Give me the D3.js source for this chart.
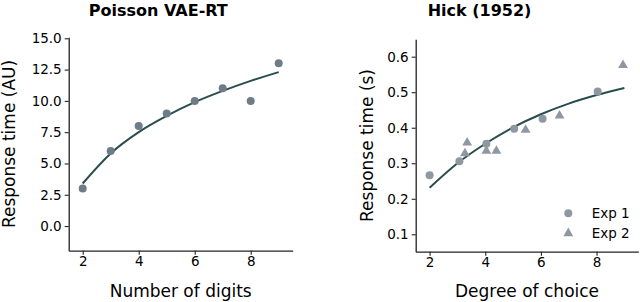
<!DOCTYPE html>
<html>
<head>
<meta charset="utf-8">
<script src="https://cdn.jsdelivr.net/npm/d3@7"></script>
<style>
  body { margin: 0; background: #fff; }
  svg text { font-family: "DejaVu Sans", sans-serif; fill: #000; }
</style>
</head>
<body>
<div id="chart"></div>
<script>
// left panel: Poisson VAE-RT
const digitsX = [2, 3, 4, 5, 6, 7, 8, 9];
const vaeRT = [3, 6, 8, 9, 10, 11, 10, 13];
const vaeFitX = [2, 3, 4, 5, 6, 7, 8, 9];
const vaeFitY = [3.4, 5.8, 7.5, 8.8, 9.9, 10.8, 11.6, 12.3];
const vaeTicksY = [0, 2.5, 5, 7.5, 10, 12.5, 15];

// right panel: Hick (1952)
const exp1X = [2, 3.07, 4.04, 5.04, 6.06, 8.04];
const exp1Y = [0.266, 0.306, 0.355, 0.397, 0.425, 0.502];
const exp2X = [3.27, 3.35, 4.04, 4.40, 5.45, 6.67, 8.95];
const exp2Y = [0.328, 0.358, 0.335, 0.335, 0.394, 0.434, 0.576];
const hickFitX = [2, 3, 4, 5, 6, 7, 8, 9];
const hickFitY = [0.231, 0.300, 0.355, 0.401, 0.438, 0.468, 0.492, 0.512];
const hickTicksY = [0.1, 0.2, 0.3, 0.4, 0.5, 0.6];
const ticksX = [2, 4, 6, 8];

const width = 640, height = 302;
const lineColor = "#284d4b";

const svg = d3.select("#chart").append("svg")
    .attr("width", width)
    .attr("height", height);

function drawPanel(opt) {
    const x = d3.scaleLinear().domain([1.5, 9.5]).range(opt.xRange);
    const y = d3.scaleLinear().domain(opt.yDomain).range(opt.yRange);
    const g = svg.append("g");

    const xAxis = g.append("g")
        .attr("transform", "translate(0," + opt.yRange[0] + ")")
        .call(d3.axisBottom(x).tickValues(ticksX).tickFormat(d3.format("d"))
            .tickSize(4).tickSizeOuter(0).tickPadding(1.5));
    const yAxis = g.append("g")
        .attr("transform", "translate(" + opt.xRange[0] + ",0)")
        .call(d3.axisLeft(y).tickValues(opt.yTicks).tickFormat(opt.yFormat)
            .tickSize(4).tickSizeOuter(0).tickPadding(3));
    [xAxis, yAxis].forEach(a => {
        a.selectAll(".domain").attr("stroke", "#222").attr("stroke-width", 1.3);
        a.selectAll(".tick line").attr("stroke", "#222").attr("stroke-width", 1.1);
        a.selectAll("text").style("font-size", "13.5px").attr("fill", "#000");
    });

    // fit curve
    const line = d3.line()
        .x(d => x(d[0]))
        .y(d => y(d[1]))
        .curve(d3.curveMonotoneX);
    g.append("path")
        .datum(opt.fitX.map((v, i) => [v, opt.fitY[i]]))
        .attr("fill", "none")
        .attr("stroke", lineColor)
        .attr("stroke-width", 2)
        .attr("d", line);

    // title
    g.append("text")
        .attr("x", opt.titleX)
        .attr("y", 15.5)
        .attr("text-anchor", "middle")
        .style("font-size", "16px")
        .style("font-weight", "bold")
        .text(opt.title);

    // axis labels
    g.append("text")
        .attr("x", (opt.xRange[0] + opt.xRange[1]) / 2)
        .attr("y", 296.5)
        .attr("text-anchor", "middle")
        .style("font-size", "17px")
        .text(opt.xLabel);
    const yMid = (opt.yRange[0] + opt.yRange[1]) / 2;
    g.append("text")
        .attr("transform", "translate(" + opt.yLabelX + "," + yMid + ") rotate(-90)")
        .attr("text-anchor", "middle")
        .style("font-size", "17px")
        .text(opt.yLabel);

    return { g, x, y };
}

// left panel
const left = drawPanel({
    xRange: [68.7, 292.7],
    yRange: [250.7, 37.3],
    yDomain: [-1.97, 15.08],
    yTicks: vaeTicksY,
    yFormat: d3.format(".1f"),
    fitX: vaeFitX, fitY: vaeFitY,
    title: "Poisson VAE-RT", titleX: 158.3,
    xLabel: "Number of digits",
    yLabel: "Response time (AU)", yLabelX: 15
});
left.g.append("g")
    .selectAll("circle")
    .data(digitsX.map((v, i) => [v, vaeRT[i]]))
    .join("circle")
    .attr("cx", d => left.x(d[0]))
    .attr("cy", d => left.y(d[1]))
    .attr("r", 4)
    .attr("fill", "#6e7c87");

// right panel
const right = drawPanel({
    xRange: [415.7, 638.3],
    yRange: [251.7, 39.3],
    yDomain: [0.051, 0.649],
    yTicks: hickTicksY,
    yFormat: d3.format(".1f"),
    fitX: hickFitX, fitY: hickFitY,
    title: "Hick (1952)", titleX: 479.5,
    xLabel: "Degree of choice",
    yLabel: "Response time (s)", yLabelX: 373
});
const markColor = "#8f98a2";
const tri = d3.symbol().type(d3.symbolTriangle).size(42);
right.g.append("g")
    .selectAll("circle")
    .data(exp1X.map((v, i) => [v, exp1Y[i]]))
    .join("circle")
    .attr("cx", d => right.x(d[0]))
    .attr("cy", d => right.y(d[1]))
    .attr("r", 4)
    .attr("fill", markColor);
right.g.append("g")
    .selectAll("path")
    .data(exp2X.map((v, i) => [v, exp2Y[i]]))
    .join("path")
    .attr("transform", d => "translate(" + right.x(d[0]) + "," + right.y(d[1]) + ")")
    .attr("d", tri)
    .attr("fill", markColor);

// legend
const legend = svg.append("g").attr("transform", "translate(568.3,213.3)");
const legendItems = ["Exp 1", "Exp 2"];
legendItems.forEach((name, i) => {
    const item = legend.append("g").attr("transform", "translate(0," + (i * 20) + ")");
    if (i === 0) {
        item.append("circle").attr("r", 4).attr("fill", markColor);
    } else {
        item.append("path").attr("d", tri).attr("fill", markColor);
    }
    item.append("text")
        .attr("x", 23.4)
        .attr("y", 4.5)
        .style("font-size", "13.5px")
        .text(name);
});
</script>
</body>
</html>
